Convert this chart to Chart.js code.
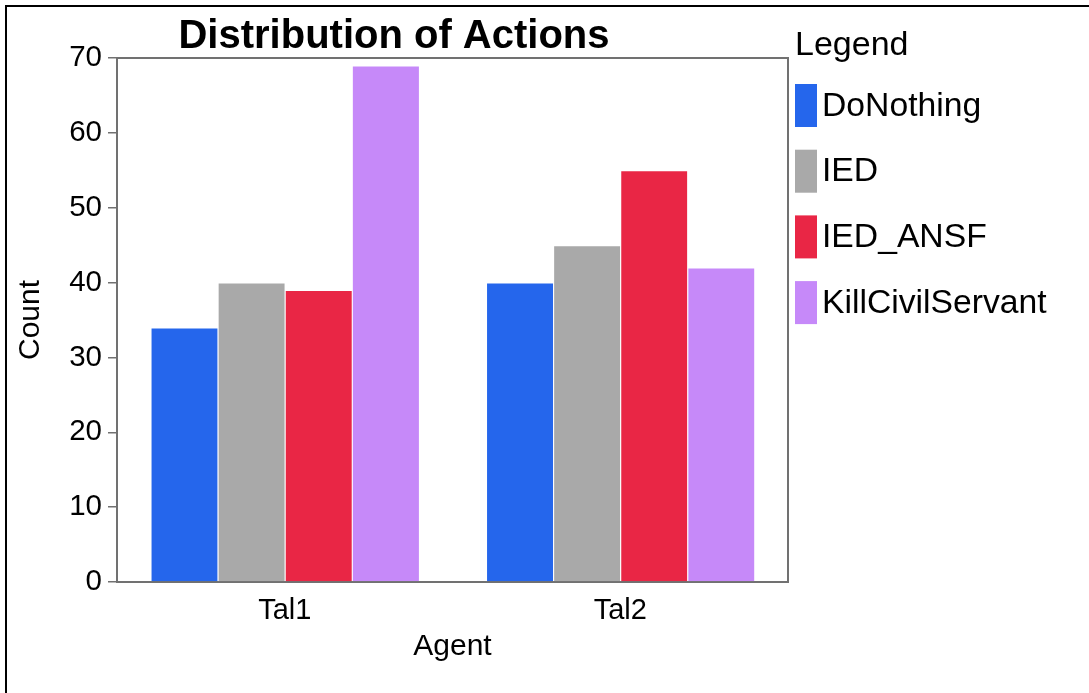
<!DOCTYPE html>
<html>
<head>
<meta charset="utf-8">
<title>Distribution of Actions</title>
<script src="https://cdn.jsdelivr.net/npm/chart.js@4.4.1/dist/chart.umd.min.js"></script>
<style>
    html, body { margin: 0; padding: 0; background: #fff; overflow: hidden; }
    #frame {
        position: absolute; left: 5px; top: 5px; width: 1200px; height: 800px;
        border-left: 2px solid #000; border-top: 2px solid #000;
    }
    #actions { position: absolute; left: 0; top: 0; }
</style>
</head>
<body>
<div id="frame"></div>
<canvas id="actions" width="1089" height="693"></canvas>
<script>
const agents = ['Tal1', 'Tal2']
const actions = ['DoNothing', 'IED', 'IED_ANSF', 'KillCivilServant']
const doNothing = [34, 40]
const ied = [40, 45]
const iedAnsf = [39, 55]
const killCivilServant = [69, 42]
const countTicks = [0, 10, 20, 30, 40, 50, 60, 70]

const colors = {
    blue: '#2566ec',
    grey: '#a9a9a9',
    red: '#e92645',
    purple: '#c689f9',
}
const FONT = '"Liberation Sans", Arial, Helvetica, sans-serif'

// grey box around the plotting area
const plotFrame = {
    id: 'plotFrame',
    beforeDatasetsDraw(chart) {
        const a = chart.chartArea
        const ctx = chart.ctx
        ctx.save()
        ctx.strokeStyle = '#717171'
        ctx.lineWidth = 2
        ctx.strokeRect(a.left, a.top, a.right - a.left, a.bottom - a.top)
        ctx.restore()
    }
}

// legend on the right: title plus tall colour swatches
const sideLegend = {
    id: 'sideLegend',
    afterDraw(chart, args, opts) {
        const ctx = chart.ctx
        ctx.save()
        ctx.fillStyle = '#000'
        ctx.font = opts.titleSize + 'px ' + FONT
        ctx.textBaseline = 'alphabetic'
        ctx.fillText(opts.title, opts.x, opts.titleY)
        ctx.font = opts.fontSize + 'px ' + FONT
        ctx.textBaseline = 'middle'
        chart.data.datasets.forEach((ds, i) => {
            const top = opts.top + i * opts.rowHeight
            ctx.fillStyle = ds.backgroundColor
            ctx.fillRect(opts.x, top, opts.boxWidth, opts.boxHeight)
            ctx.fillStyle = '#000'
            ctx.fillText(ds.label, opts.x + opts.boxWidth + 5, top + opts.boxHeight / 2 + 1)
        })
        ctx.restore()
    }
}

function drawActions() {
    var ctx = document.getElementById('actions').getContext('2d')
    var series = [doNothing, ied, iedAnsf, killCivilServant]
    var fills = [colors.blue, colors.grey, colors.red, colors.purple]
    var data = {
        labels: agents,
        datasets: actions.map((name, i) => ({
            label: name,
            data: series[i],
            backgroundColor: fills[i],
            borderColor: 'rgba(255,255,255,0.5)',
            borderWidth: { top: 1, left: 1, right: 0, bottom: 0 },
            borderSkipped: false,
            categoryPercentage: 0.8,
            barPercentage: 1.0,
        })),
    }
    window.actionsChart = new Chart(ctx, {
        type: 'bar',
        data: data,
        plugins: [plotFrame, sideLegend],
        options: {
            responsive: false,
            animation: false,
            devicePixelRatio: 1,
            layout: { padding: { left: 0, right: 301, top: 0, bottom: 0 } },
            plugins: {
                legend: { display: false },
                tooltip: { enabled: false },
                title: {
                    display: true,
                    text: 'Distribution of Actions',
                    color: '#000',
                    font: { family: FONT, size: 40, weight: 'bold', lineHeight: 1.05 },
                    padding: { top: 16, bottom: 0 },
                },
                sideLegend: {
                    title: 'Legend',
                    titleSize: 34,
                    titleY: 55,
                    fontSize: 33.7,
                    x: 795,
                    top: 84,
                    rowHeight: 65.7,
                    boxWidth: 22,
                    boxHeight: 43,
                },
            },
            scales: {
                x: {
                    grid: { display: false, drawTicks: false },
                    border: { display: false },
                    ticks: { color: '#000', padding: 12, font: { family: FONT, size: 29 } },
                    title: {
                        display: true, text: 'Agent', color: '#000',
                        font: { family: FONT, size: 30 },
                        padding: { top: 0, bottom: 28 },
                    },
                    afterFit: (scale) => { scale.height = 111 },
                },
                y: {
                    min: 0,
                    max: 70,
                    grid: {
                        drawOnChartArea: false, drawTicks: true, tickLength: 9,
                        color: '#717171', lineWidth: 1.5,
                    },
                    border: { display: false },
                    afterBuildTicks: (scale) => { scale.ticks = countTicks.map((v) => ({ value: v })) },
                    ticks: { color: '#000', padding: 6, font: { family: FONT, size: 29.5 } },
                    title: {
                        display: true, text: 'Count', color: '#000',
                        font: { family: FONT, size: 30 },
                        padding: { top: 13, bottom: 0 },
                    },
                    afterFit: (scale) => { scale.width = 117 },
                },
            },
        },
    })
}

drawActions()
</script>
</body>
</html>
